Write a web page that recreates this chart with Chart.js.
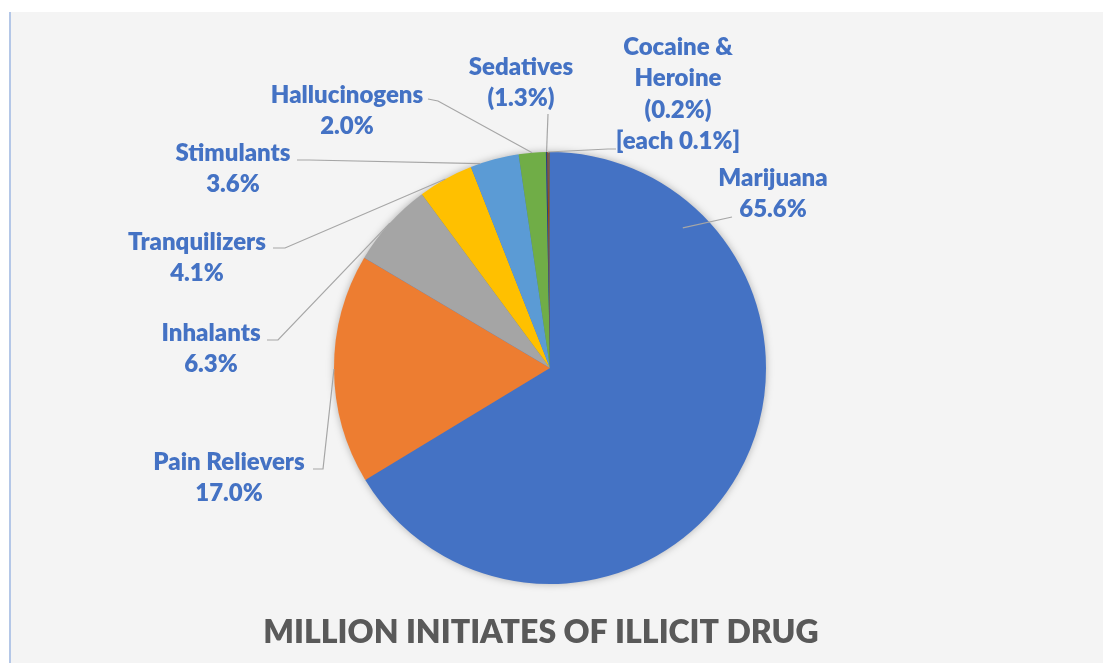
<!DOCTYPE html>
<html lang="en">
<head>
<meta charset="UTF-8">
<title>Million Initiates of Illicit Drug</title>
<style>
    html, body { margin: 0; padding: 0; background: #ffffff; }
    body { width: 1103px; height: 663px; overflow: hidden; position: relative; }
    .frame {
        position: absolute; left: 9px; top: 12px;
        width: 1092px; height: 651px;
        background: #f4f4f4;
        border-left: 2px solid #b4c7e7;
    }
    canvas { display: block; }
</style>
</head>
<body>
<div class="frame">
    <canvas id="pie" width="1092" height="651"></canvas>
</div>
<script src="https://cdn.jsdelivr.net/npm/chart.js@4/dist/chart.umd.min.js"></script>
<script>
// slices, clockwise from 12 o'clock
const drugs = ['Marijuana', 'Pain Relievers', 'Inhalants', 'Tranquilizers', 'Stimulants',
               'Hallucinogens', 'Sedatives', 'Cocaine', 'Heroine'];
const shares = [65.6, 17.0, 6.3, 4.1, 3.6, 2.0, 0.1, 0.1, 0.1];
const sliceColors = ['#4472C4', '#ED7D31', '#A5A5A5', '#FFC000', '#5B9BD5',
                     '#70AD47', '#264478', '#9E480E', '#636363'];
// data label text as it reads on the chart
const labelLines = [
    ['Marijuana', '65.6%'],
    ['Pain Relievers', '17.0%'],
    ['Inhalants', '6.3%'],
    ['Tranquilizers', '4.1%'],
    ['Stimulants', '3.6%'],
    ['Hallucinogens', '2.0%'],
    ['Sedatives', '(1.3%)'],
    ['Cocaine &', 'Heroine', '(0.2%)', '[each 0.1%]'],
    null
];
const chartTitle = 'MILLION INITIATES OF ILLICIT DRUG';

// where each label sits (page coords) and how its leader line bends
const OX = 11, OY = 12;
const labelLayout = [
    { x: 773, y: 178, from: [732, 217], knee: null, t: 0.182, rf: 0.894 },
    { x: 229, y: 462, from: [313, 469], knee: [323, 469] },
    { x: 211, y: 333, from: [267, 340], knee: [278, 340] },
    { x: 197, y: 242, from: [273, 248], knee: [285, 248] },
    { x: 233, y: 153, from: [297, 160], knee: [309, 160], t: 0.2 },
    { x: 347, y: 95,  from: [428, 99],  knee: [438, 101] },
    { x: 521, y: 67,  from: [548, 114], knee: null },
    { x: 678, y: 47,  from: [616, 149], knee: [608, 149] },
    null
];
const lineGap = 31.5;

const pieShadow = {
    id: 'pieShadow',
    beforeDatasetsDraw(chart) {
        const arc = chart.getDatasetMeta(0).data[0];
        if (!arc) return;
        const ctx = chart.ctx;
        ctx.save();
        ctx.shadowColor = 'rgba(0,0,0,0.35)';
        ctx.shadowBlur = 9;
        ctx.fillStyle = '#4472C4';
        ctx.beginPath();
        ctx.arc(arc.x, arc.y, arc.outerRadius - 1, 0, Math.PI * 2);
        ctx.fill();
        ctx.restore();
    }
};

const pieLabels = {
    id: 'pieLabels',
    afterDraw(chart) {
        const ctx = chart.ctx;
        const arcs = chart.getDatasetMeta(0).data;
        ctx.save();
        // leader lines
        ctx.strokeStyle = '#a6a6a6';
        ctx.lineWidth = 1.2;
        arcs.forEach((arc, i) => {
            const lay = labelLayout[i];
            if (!lay) return;
            const t = lay.t !== undefined ? lay.t : 0.5;
            const rf = lay.rf !== undefined ? lay.rf : 1;
            const ang = arc.startAngle + (arc.endAngle - arc.startAngle) * t;
            const tx = arc.x + Math.cos(ang) * arc.outerRadius * rf;
            const ty = arc.y + Math.sin(ang) * arc.outerRadius * rf;
            ctx.beginPath();
            ctx.moveTo(lay.from[0] - OX, lay.from[1] - OY);
            if (lay.knee) ctx.lineTo(lay.knee[0] - OX, lay.knee[1] - OY);
            ctx.lineTo(tx, ty);
            ctx.stroke();
        });
        // label text
        ctx.fillStyle = '#4472C4';
        ctx.font = '800 24px Lato';
        ctx.textAlign = 'center';
        ctx.textBaseline = 'middle';
        labelLines.forEach((lines, i) => {
            const lay = labelLayout[i];
            if (!lines || !lay) return;
            lines.forEach((s, k) => {
                ctx.fillText(s, lay.x - OX, lay.y - OY + k * lineGap);
            });
        });
        // title under the pie
        ctx.fillStyle = '#595959';
        ctx.font = '800 32px Lato';
        ctx.fillText(chartTitle, 541 - OX, 633 - OY);
        ctx.restore();
    }
};

new Chart(document.getElementById('pie'), {
    type: 'pie',
    data: {
        labels: drugs,
        datasets: [{
            data: shares,
            backgroundColor: sliceColors,
            borderWidth: 0
        }]
    },
    options: {
        responsive: false,
        animation: false,
        layout: { padding: { top: 140, bottom: 79, left: 300, right: 314 } },
        plugins: {
            legend: { display: false },
            tooltip: { enabled: false }
        }
    },
    plugins: [pieShadow, pieLabels]
});
</script>
</body>
</html>
